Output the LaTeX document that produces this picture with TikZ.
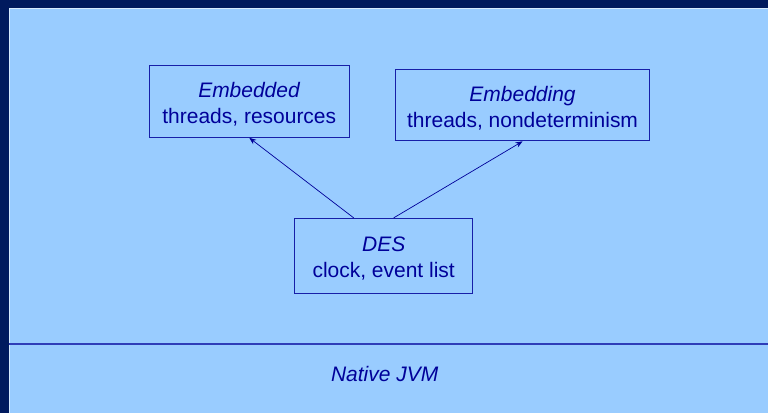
\documentclass[tikz,border=0pt]{standalone}
\usepackage{fontspec}
\setmainfont{Liberation Sans}
\usepackage{tikz}
\usetikzlibrary{positioning, arrows.meta}

\definecolor{slidebg}{HTML}{001A5E}
\definecolor{panel}{HTML}{99CCFF}
\definecolor{ink}{HTML}{000099}

\begin{document}
\begin{tikzpicture}[x=1pt, y=-1pt,
    layer/.style={draw=ink!85!panel, line width=0.9pt, text=ink, align=center, inner sep=0pt,
        text height=44pt, text depth=0pt, font=\fontsize{21}{26}\selectfont},
    uses/.style={draw=ink, line width=0.7pt, -{Stealth[length=7pt, width=5.5pt]}}]
    % slide background and panel
    \fill[slidebg] (0,0) rectangle (769,413);
    \fill[panel] (9,8) rectangle (769,413);
    \draw[panel!40!white, line width=0.8pt] (9.5,413) -- (9.5,8.5) -- (769,8.5);

    \node[layer, minimum width=200pt, minimum height=72pt] (embedded) at (249.5,101.5) {\textit{Embedded}\\threads, resources};
    \node[layer, minimum width=254pt, minimum height=71pt] (embedding) at (523,105.5) {\textit{Embedding}\\threads, nondeterminism};
    \node[layer, minimum width=178pt, minimum height=75pt] (des) at (384,256) {\textit{DES}\\clock, event list};

    \draw[uses] ([xshift=-30pt]des.north) -- (embedded.south);
    \draw[uses] ([xshift=10pt]des.north) -- (embedding.south);

    % JVM layer
    \coordinate (jvmleft) at (9,344.3);
    \coordinate (jvmright) at (769,344.3);
    \draw[ink!70!panel, line width=1.3pt] (jvmleft) -- (jvmright);
    \node[text=ink, font=\fontsize{21}{26}\selectfont\itshape] (jvm) at (385,374) {Native JVM};
\end{tikzpicture}
\end{document}
